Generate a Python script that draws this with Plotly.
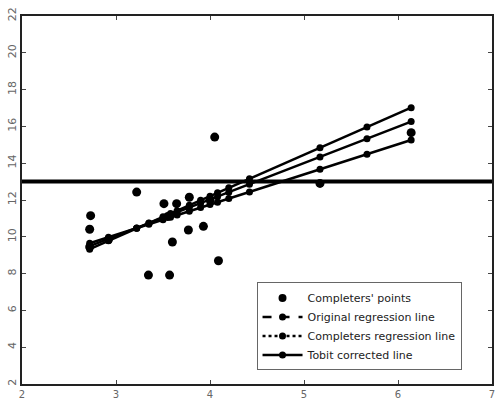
import plotly.graph_objects as go

# Completers' observed points
pts_x = [2.73, 2.72, 2.72, 3.22, 3.51, 3.645, 3.78, 3.77, 3.93, 3.60, 3.345, 3.57, 4.09, 4.05, 5.17, 6.14, 2.92, 3.55, 4.00]
pts_y = [11.15, 10.41, 9.45, 12.43, 11.80, 11.80, 12.15, 10.37, 10.57, 9.72, 7.92, 7.92, 8.70, 15.42, 12.90, 15.66, 9.85, 11.10, 12.00]

# Regression lines evaluated at observed x-values
line_x = [2.72, 2.92, 3.22, 3.35, 3.50, 3.58, 3.65, 3.78, 3.90, 4.00, 4.08, 4.20, 4.42, 5.17, 5.67, 6.14]
tobit_y = [9.33, 9.78, 10.46, 10.75, 11.09, 11.27, 11.42, 11.72, 11.99, 12.21, 12.39, 12.66, 13.16, 14.84, 15.97, 17.02]
original_y = [9.49, 9.89, 10.48, 10.74, 11.03, 11.19, 11.33, 11.59, 11.83, 12.02, 12.18, 12.42, 12.86, 14.34, 15.33, 16.26]
completers_y = [9.65, 9.98, 10.47, 10.68, 10.93, 11.06, 11.18, 11.39, 11.59, 11.75, 11.88, 12.08, 12.44, 13.67, 14.49, 15.26]

threshold = 13
x_range = [2, 7]
y_range = [2, 22]
x_ticks = [2, 3, 4, 5, 6, 7]
y_ticks = [2, 4, 6, 8, 10, 12, 14, 16, 18, 20, 22]

fig = go.Figure()

for ys in (tobit_y, original_y, completers_y):
    fig.add_trace(go.Scatter(x=line_x, y=ys, mode="lines+markers",
                             line=dict(color="black", width=2.5),
                             marker=dict(color="black", size=7),
                             showlegend=False, hoverinfo="skip"))

fig.add_trace(go.Scatter(x=pts_x, y=pts_y, mode="markers",
                         marker=dict(color="black", size=9),
                         showlegend=False))

# legend entries
fig.add_trace(go.Scatter(x=[None], y=[None], mode="markers",
                         marker=dict(color="black", size=8), name="Completers' points"))
fig.add_trace(go.Scatter(x=[None], y=[None], mode="lines+markers",
                         line=dict(color="black", width=2.5, dash="dash"),
                         marker=dict(color="black", size=7), name="Original regression line"))
fig.add_trace(go.Scatter(x=[None], y=[None], mode="lines+markers",
                         line=dict(color="black", width=2.5, dash="dot"),
                         marker=dict(color="black", size=7), name="Completers regression line"))
fig.add_trace(go.Scatter(x=[None], y=[None], mode="lines+markers",
                         line=dict(color="black", width=2.5),
                         marker=dict(color="black", size=7), name="Tobit corrected line"))

fig.add_hline(y=threshold, line=dict(color="black", width=4))

axis_common = dict(showgrid=False, zeroline=False, showline=True, linecolor="#222",
                   linewidth=1.5, mirror="allticks", ticks="inside", ticklen=4,
                   tickcolor="#444", automargin=False)

fig.update_xaxes(range=x_range, tickvals=x_ticks,
                 tickfont=dict(family="DejaVu Sans", size=10, color="#666"), **axis_common)
fig.update_yaxes(range=y_range, tickvals=y_ticks, tickangle=-90,
                 tickfont=dict(family="DejaVu Sans", size=11, color="#666"), **axis_common)

fig.update_layout(
    width=501, height=400,
    margin=dict(l=22, r=9, t=16, b=16),
    plot_bgcolor="white", paper_bgcolor="white",
    legend=dict(x=0.499, y=0.276, xanchor="left", yanchor="top",
                bordercolor="#666", borderwidth=1, bgcolor="white",
                font=dict(family="DejaVu Sans", size=11, color="#222"),
                itemwidth=40, tracegroupgap=0),
)

fig.write_html("out.html")
